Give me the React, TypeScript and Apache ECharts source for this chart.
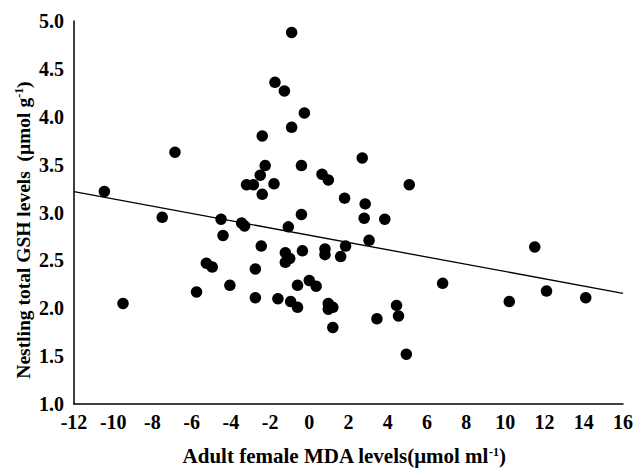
import React, { useEffect, useRef } from "react";
import * as echarts from "echarts";

const mdaValues: number[] = [
  -10.45, -6.85, -9.5, -7.5, -5.75, -5.25, -4.95, -4.5, -4.4, -4.05, -3.45, -3.3, -3.2, -2.85,
  -2.75, -2.75, -2.4, -2.5, -2.4, -2.25, -2.45, -1.8, -1.75, -1.6, -1.27, -1.22, -1.22, -1.0,
  -1.07, -0.9, -0.9, -0.95, -0.6, -0.6, -0.4, -0.4, -0.25, -0.35, 0.0, 0.35, 0.65, 0.8, 0.8,
  0.97, 0.97, 0.97, 1.2, 1.2, 1.6, 1.85, 1.8, 2.8, 2.85, 2.7, 3.05, 3.45, 3.85, 4.45, 4.55,
  4.95, 5.1, 6.8, 10.2, 11.5, 12.1, 14.1,
];
const gshValues: number[] = [
  3.22, 3.63, 2.05, 2.95, 2.17, 2.47, 2.43, 2.93, 2.76, 2.24, 2.89, 2.86, 3.29, 3.29,
  2.41, 2.11, 3.8, 3.39, 3.19, 3.49, 2.65, 3.3, 4.36, 2.1, 4.27, 2.58, 2.48, 2.52,
  2.85, 4.88, 3.89, 2.07, 2.24, 2.01, 2.98, 3.49, 4.04, 2.6, 2.29, 2.23, 3.4, 2.62, 2.56,
  3.34, 2.05, 1.99, 2.01, 1.8, 2.54, 2.65, 3.15, 2.94, 3.09, 3.57, 2.71, 1.89, 2.93, 2.03, 1.92,
  1.52, 3.29, 2.26, 2.07, 2.64, 2.18, 2.11,
];
const fitX: number[] = [-12, 16];
const fitY: number[] = [3.217, 2.156];

export default function App() {
  const ref = useRef<HTMLDivElement>(null);
  useEffect(() => {
    document.body.style.margin = "0";
    if (!ref.current) return;
    const chart = echarts.init(ref.current, undefined, { renderer: "svg" });
    const font = "'Liberation Serif', 'Times New Roman', serif";
    const makeRich = (size: number) => ({
      t: { fontFamily: font, fontWeight: "bold", fontSize: size, fill: "#000" },
      s: {
        fontFamily: font,
        fontWeight: "bold",
        fontSize: 12,
        fill: "#000",
        verticalAlign: "top",
        padding: [0, 0, 9, 0],
      },
    });
    chart.setOption({
      animation: false,
      backgroundColor: "#ffffff",
      grid: { left: 74, right: 10, top: 21, bottom: 64, containLabel: false },
      xAxis: {
        type: "value",
        min: -12,
        max: 16,
        interval: 2,
        axisLine: { show: true, onZero: false, lineStyle: { color: "#000", width: 1.5 } },
        axisTick: { show: false },
        splitLine: { show: false },
        axisLabel: {
          margin: 8,
          color: "#000",
          fontFamily: font,
          fontWeight: "bold",
          fontSize: 20,
        },
      },
      yAxis: {
        type: "value",
        min: 1,
        max: 5,
        interval: 0.5,
        axisLine: { show: true, onZero: false, lineStyle: { color: "#000", width: 1.5 } },
        axisTick: { show: false },
        splitLine: { show: false },
        axisLabel: {
          margin: 10,
          color: "#000",
          fontFamily: font,
          fontWeight: "bold",
          fontSize: 20,
          formatter: (v: number) => v.toFixed(1),
        },
      },
      graphic: [
        {
          type: "text",
          x: 344,
          y: 456,
          style: {
            text: "{t|Adult female MDA levels(μmol ml}{s|-1}{t|)}",
            align: "center",
            verticalAlign: "middle",
            rich: makeRich(21),
          },
        },
        {
          type: "text",
          x: 23,
          y: 230,
          rotation: Math.PI / 2,
          style: {
            text: "{t|Nestling total GSH levels  (μmol g}{s|-1}{t|)}",
            align: "center",
            verticalAlign: "middle",
            rich: makeRich(19.5),
          },
        },
      ],
      series: [
        {
          type: "line",
          data: fitX.map((x, i) => [x, fitY[i]]),
          symbol: "none",
          lineStyle: { color: "#000", width: 1.3 },
          silent: true,
        },
        {
          type: "scatter",
          data: mdaValues.map((x, i) => [x, gshValues[i]]),
          symbol: "circle",
          symbolSize: 11.5,
          itemStyle: { color: "#000", opacity: 1 },
        },
      ],
    });
    return () => chart.dispose();
  }, []);
  return <div ref={ref} style={{ width: 636, height: 468 }} />;
}
